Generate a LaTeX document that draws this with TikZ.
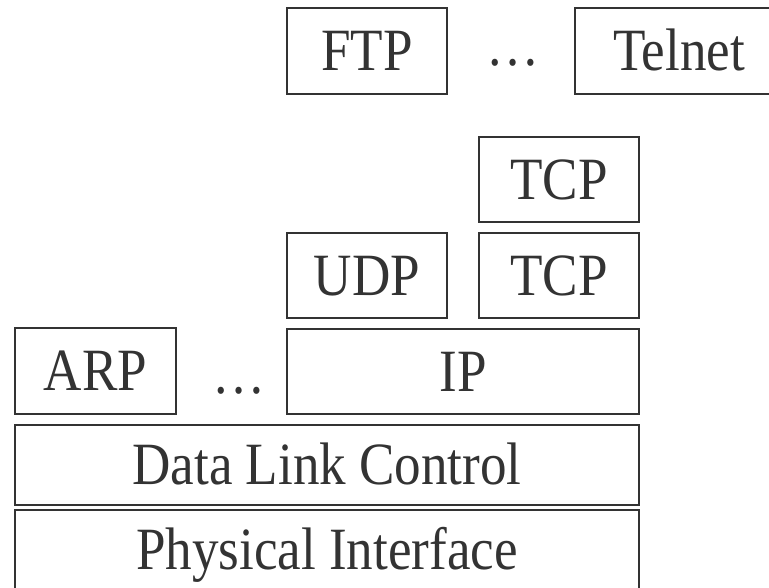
\documentclass[tikz,border=0pt]{standalone}
\usepackage{fontspec}
\setmainfont{Liberation Serif}
\definecolor{ink}{HTML}{333333}
\newcommand{\lbl}[1]{\scalebox{0.885}[1]{#1}}
\begin{document}
\begin{tikzpicture}[x=1pt,y=-1pt,
  layer/.style={draw=ink,line width=1.8pt,rectangle,inner sep=0pt,
    text=ink,font=\fontsize{60}{60}\selectfont,
    text height=39.7pt,text depth=0pt},
  gap/.style={text=ink,font=\fontsize{60}{60}\selectfont,inner sep=0pt,anchor=base}]
  \useasboundingbox (0,0) rectangle (769,587);
  \clip (0,0) rectangle (769,587);
  % application layer
  \node[layer,minimum width=160pt,minimum height=86pt] (ftp) at (367,51) {\lbl{FTP}};
  \node[gap] (appdots) at (513,65) {\lbl{…}};
  \node[layer,minimum width=208pt,minimum height=86pt] (telnet) at (679,51) {\lbl{Telnet}};
  % transport layer
  \node[layer,minimum width=160pt,minimum height=85pt] (tcptop) at (559,179.5) {\lbl{TCP}};
  \node[layer,minimum width=160pt,minimum height=85pt] (udp) at (367,275.5) {\lbl{UDP}};
  \node[layer,minimum width=160pt,minimum height=85pt] (tcp) at (559,275.5) {\lbl{TCP}};
  % network layer
  \node[layer,minimum width=161pt,minimum height=86pt] (arp) at (95.5,371) {\lbl{ARP}};
  \node[gap] (netdots) at (239,393) {\lbl{…}};
  \node[layer,minimum width=352pt,minimum height=85pt] (ip) at (463,371.5) {\lbl{IP}};
  % link and physical layers
  \node[layer,minimum width=624pt,minimum height=80pt] (dlc) at (327,465) {\lbl{Data Link Control}};
  \node[layer,minimum width=624pt,minimum height=80pt] (phy) at (327,550) {\lbl{Physical Interface}};
\end{tikzpicture}
\end{document}
